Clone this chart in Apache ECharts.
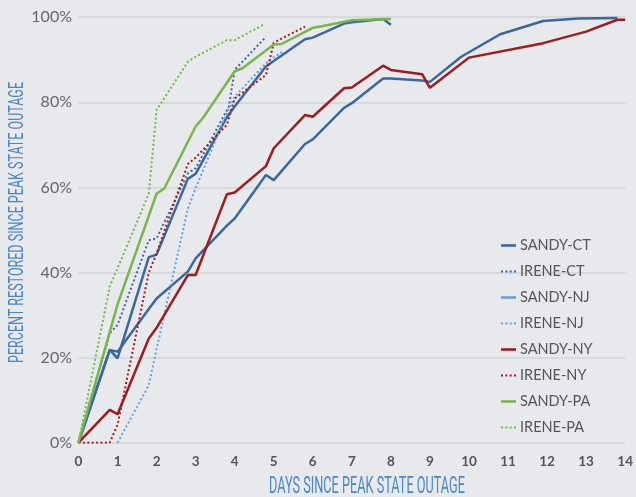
<!DOCTYPE html>
<html lang="en">
<head>
    <meta charset="UTF-8">
    <title>Percent restored since peak state outage</title>
    <style>
        html,body{margin:0;padding:0;width:636px;height:497px;background:#e8e9ec;}
        #lineChart{width:636px;height:497px;}
    </style>
</head>
<body>
<div id="lineChart"></div>
<script src="https://cdn.jsdelivr.net/npm/echarts@6/dist/echarts.min.js"></script>
<script>
    // [day, percent restored]
    const sandyCT = [[0,0],[0.8,21.8],[1,19.8],[1.8,43.6],[2,44.2],[2.8,62],[3,63.2],[3.8,76.5],[4,79],[4.8,88.4],[5,89.7],[5.8,94.8],[6,95.2],[6.8,98.5],[7,98.8],[7.8,99.6],[8,98.2]];
    const ireneCT = [[0,0],[0.8,25.7],[1,27.7],[1.8,47.6],[2,48],[2.8,63.3],[3,64.5],[3.85,79],[4,87.6],[4.8,95.4]];
    const sandyNJ = [[0,0],[0.8,21.8],[1,21.4],[1.8,31.4],[2,33.9],[2.8,40.2],[3,43.3],[3.8,51],[4,52.7],[4.8,62.9],[5,61.7],[5.8,70.2],[6,71.3],[6.8,78.7],[7,79.8],[7.8,85.6],[8,85.6],[8.8,85.1],[9,84.8],[9.8,90.7],[10.8,96],[11.9,99.1],[12.8,99.7],[13.8,99.8]];
    const ireneNJ = [[1,0],[1.8,13.5],[2,22],[2.8,55],[3,59.8],[3.8,77.5],[4,81.3],[4.8,89.2],[5,90.6],[5.25,92]];
    const sandyNY = [[0,0],[0.8,7.7],[1,6.7],[1.8,24.5],[2,27],[2.8,39.4],[3,39.4],[3.8,58.4],[4,58.8],[4.8,65],[5,69.2],[5.8,77],[6,76.6],[6.8,83.3],[7,83.5],[7.8,88.6],[8,87.6],[8.8,86.6],[9,83.4],[10,90.5],[11.9,93.9],[13,96.6],[13.8,99.4],[14,99.4]];
    const ireneNY = [[0,0],[0.8,0],[1,4.2],[1.8,40],[2,44.5],[2.8,65.5],[3,67],[3.8,74.7],[4,80.9],[4.8,86.4],[5,94],[5.8,97.8]];
    const sandyPA = [[0,0],[0.8,26],[1,32.5],[2,58.5],[2.2,59.8],[3,74.3],[3.2,76.5],[4,87.3],[4.2,88],[5,93.6],[5.2,93.7],[6,97.5],[6.2,97.8],[7,99.3],[8,99.6]];
    const irenePA = [[0,0],[0.8,36.7],[1,41],[1.8,58.5],[2,78.2],[2.8,89.5],[3,90.7],[3.8,94.6],[4,94.6],[4.75,98.3]];

    const seriesNames = ['SANDY-CT','IRENE-CT','SANDY-NJ','IRENE-NJ','SANDY-NY','IRENE-NY','SANDY-PA','IRENE-PA'];
    const seriesData = [sandyCT, ireneCT, sandyNJ, ireneNJ, sandyNY, ireneNY, sandyPA, irenePA];
    const yTicks = [0, 20, 40, 60, 80, 100];

    const darkBlue = '#3b689c', lightBlue = '#64a0da', red = '#9d1c22', green = '#79b549';
    // line colour in the plot / colour shown in the legend
    const lineColors = [darkBlue, darkBlue, darkBlue, lightBlue, red, red, green, green];
    const keyColors = [darkBlue, darkBlue, lightBlue, lightBlue, red, red, green, green];
    const dotted = [false, true, false, true, false, true, false, true];

    const solidIcon = 'path://M0,0h15v2.6h-15z';
    const dotIcon = 'path://M0,0h2v2h-2zM4.3,0h2v2h-2zM8.6,0h2v2h-2zM12.9,0h2v2h-2z';

    // squeeze a title into a given width (condensed look)
    function fitScale(text, font, width){
        let ctx = document.createElement('canvas').getContext('2d');
        ctx.font = font;
        return width / ctx.measureText(text).width;
    }

    const yTitle = 'PERCENT RESTORED SINCE PEAK STATE OUTAGE';
    const xTitle = 'DAYS SINCE PEAK STATE OUTAGE';
    const yTitleFont = '20px Roboto, sans-serif';
    const xTitleFont = '23px Roboto, sans-serif';

    function lineChart(){
        let myChart = echarts.init(document.getElementById('lineChart'));
        let series = seriesNames.map(function(name, i){
            return {
                name: name,
                type: 'line',
                data: seriesData[i],
                symbol: 'none',
                showSymbol: false,
                itemStyle: {color: keyColors[i]},
                lineStyle: {
                    color: lineColors[i],
                    width: dotted[i] ? 2 : 2.5,
                    type: dotted[i] ? [2, 2.4] : 'solid'
                }
            };
        });
        let option = {
            backgroundColor: '#e8e9ec',
            animation: false,
            grid: {
                left: 78.5,
                right: 9,
                top: 17.2,
                bottom: 54.3
            },
            legend: {
                orient: 'vertical',
                left: 501,
                top: 238,
                padding: 0,
                itemWidth: 15,
                itemHeight: 14,
                itemGap: 11,
                data: seriesNames.map(function(name, i){
                    return {
                        name: name,
                        icon: dotted[i] ? dotIcon : solidIcon,
                        itemStyle: {color: keyColors[i], borderWidth: 0}
                    };
                }),
                textStyle: {
                    color: '#555555',
                    fontSize: 14.5,
                    fontFamily: 'Lato',
                    padding: [0, 0, 0, -1]
                }
            },
            xAxis: {
                type: 'value',
                min: 0,
                max: 14,
                interval: 1,
                axisLine: {show: false},
                axisTick: {show: false},
                splitLine: {show: false},
                axisLabel: {
                    color: '#545454',
                    fontSize: 13.5,
                    fontWeight: 'bold',
                    fontFamily: 'Lato',
                    margin: 12
                }
            },
            yAxis: {
                type: 'value',
                min: yTicks[0],
                max: yTicks[yTicks.length - 1],
                interval: 20,
                axisLine: {show: false},
                axisTick: {show: false},
                axisLabel: {
                    formatter: '{value}%',
                    color: '#666666',
                    fontSize: 16,
                    fontFamily: 'Lato',
                    margin: 6.5
                },
                splitLine: {
                    lineStyle: {color: '#d2d3d6', width: 1.5}
                }
            },
            graphic: [
                {
                    type: 'text',
                    x: 18,
                    y: 222.5,
                    rotation: Math.PI / 2,
                    scaleX: fitScale(yTitle, yTitleFont, 281),
                    style: {
                        text: yTitle,
                        font: yTitleFont,
                        fill: '#4b87c4',
                        align: 'center',
                        verticalAlign: 'middle'
                    }
                },
                {
                    type: 'text',
                    x: 367,
                    y: 487,
                    scaleX: fitScale(xTitle, xTitleFont, 196),
                    style: {
                        text: xTitle,
                        font: xTitleFont,
                        fill: '#4b87c4',
                        align: 'center',
                        verticalAlign: 'middle'
                    }
                }
            ],
            series: series
        };
        myChart.setOption(option);
    }

    lineChart();
</script>
</body>
</html>
